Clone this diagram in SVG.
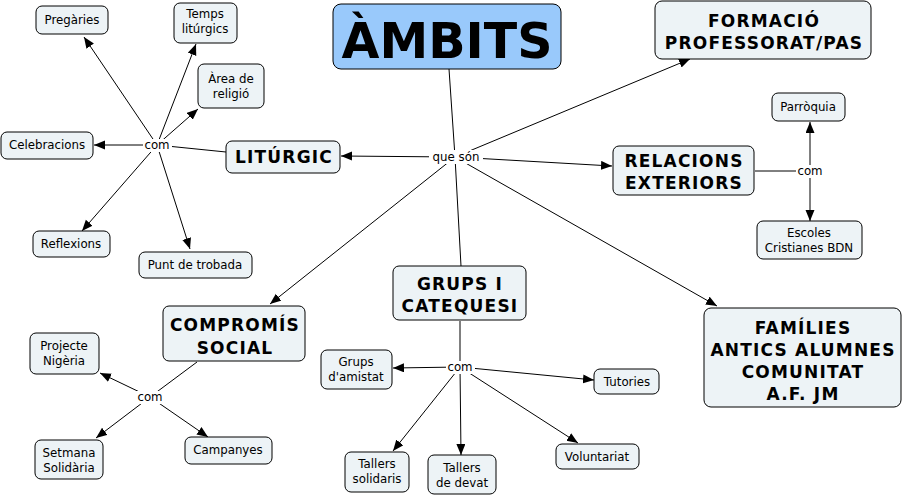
<svg xmlns="http://www.w3.org/2000/svg" width="903" height="497" viewBox="0 0 903 497">
<style>
.n{fill:#edf3f6;stroke:#000;stroke-width:1}
.t{font-family:"DejaVu Sans",Verdana,sans-serif;font-size:11.8px;fill:#000;text-anchor:middle}
.b{font-family:"DejaVu Sans",Verdana,sans-serif;font-size:17px;letter-spacing:1.2px;font-weight:bold;fill:#000;text-anchor:middle}
.c line{stroke:#000;stroke-width:1}
.a{marker-end:url(#ah)}
.lb{fill:#fff}
</style>
<defs>
<marker id="ah" markerUnits="userSpaceOnUse" markerWidth="12" markerHeight="10" refX="11" refY="4.5" orient="auto">
<path d="M0,0 L11,4.5 L0,9 z" fill="#000"/>
</marker>
</defs>
<rect width="903" height="497" fill="#fff"/>
<g id="connectors" class="c">
<line x1="455" y1="157" x2="449" y2="69"/>
<line class="a" x1="455" y1="157" x2="690" y2="59"/>
<line class="a" x1="455" y1="157" x2="341" y2="156"/>
<line class="a" x1="455" y1="157" x2="612" y2="166"/>
<line class="a" x1="455" y1="157" x2="270" y2="304"/>
<line x1="455" y1="157" x2="461" y2="266"/>
<line class="a" x1="455" y1="157" x2="717" y2="306"/>
<line x1="226" y1="152" x2="157" y2="145"/>
<line class="a" x1="157" y1="145" x2="84" y2="37"/>
<line class="a" x1="157" y1="145" x2="196" y2="44"/>
<line class="a" x1="157" y1="145" x2="198" y2="109"/>
<line class="a" x1="157" y1="145" x2="94" y2="145"/>
<line class="a" x1="157" y1="145" x2="82" y2="231"/>
<line class="a" x1="157" y1="145" x2="190" y2="249"/>
<line x1="755" y1="171" x2="810" y2="171"/>
<line class="a" x1="810" y1="171" x2="810" y2="122"/>
<line class="a" x1="810" y1="171" x2="810" y2="221"/>
<line x1="197" y1="362" x2="150" y2="397"/>
<line class="a" x1="150" y1="397" x2="100" y2="373"/>
<line class="a" x1="150" y1="397" x2="96" y2="438"/>
<line class="a" x1="150" y1="397" x2="208" y2="437"/>
<line x1="460" y1="321" x2="460" y2="367"/>
<line class="a" x1="460" y1="367" x2="393" y2="368"/>
<line class="a" x1="460" y1="367" x2="594" y2="380"/>
<line class="a" x1="460" y1="367" x2="393" y2="451"/>
<line class="a" x1="460" y1="367" x2="461" y2="455"/>
<line class="a" x1="460" y1="367" x2="578" y2="443"/>
</g>
<g id="label-queson"><rect class="lb" x="429" y="150" width="54" height="14"/><text class="t" x="456" y="161">que són</text></g>
<g id="label-com1"><rect class="lb" x="143" y="139" width="29" height="13"/><text class="t" x="157" y="149">com</text></g>
<g id="label-com2"><rect class="lb" x="796" y="165" width="29" height="13"/><text class="t" x="810" y="175">com</text></g>
<g id="label-com3"><rect class="lb" x="136" y="391" width="29" height="13"/><text class="t" x="150" y="401">com</text></g>
<g id="label-com4"><rect class="lb" x="446" y="361" width="29" height="13"/><text class="t" x="460" y="371">com</text></g>

<g id="ambits"><rect x="333" y="4" width="228" height="65" rx="8" fill="#99c9fb" stroke="#000"/><text class="b" style="font-size:49px;letter-spacing:0" x="447" y="58">ÀMBITS</text></g>
<g id="formacio"><rect class="n" x="655" y="1" width="216" height="58" rx="7"/><text class="b" x="764" y="27">FORMACIÓ</text><text class="b" x="764" y="49">PROFESSORAT/PAS</text></g>
<g id="liturgic"><rect class="n" x="226" y="141" width="114" height="32" rx="6"/><text class="b" x="284" y="163">LITÚRGIC</text></g>
<g id="relacions"><rect class="n" x="613" y="146" width="141" height="49" rx="6"/><text class="b" x="684" y="167">RELACIONS</text><text class="b" x="684" y="189">EXTERIORS</text></g>
<g id="parroquia"><rect class="n" x="772" y="93" width="73" height="28" rx="6"/><text class="t" x="808" y="111">Parròquia</text></g>
<g id="escoles"><rect class="n" x="757" y="221" width="105" height="38" rx="6"/><text class="t" x="809" y="237">Escoles</text><text class="t" x="809" y="252">Cristianes BDN</text></g>
<g id="pregaries"><rect class="n" x="36" y="6" width="72" height="28" rx="6"/><text class="t" x="72" y="24">Pregàries</text></g>
<g id="temps"><rect class="n" x="174" y="3" width="63" height="40" rx="6"/><text class="t" x="205" y="18">Temps</text><text class="t" x="205" y="33">litúrgics</text></g>
<g id="area"><rect class="n" x="198" y="64" width="66" height="44" rx="6"/><text class="t" x="231" y="83">Àrea de</text><text class="t" x="231" y="98">religió</text></g>
<g id="celebracions"><rect class="n" x="1" y="132" width="92" height="27" rx="6"/><text class="t" x="47" y="149">Celebracions</text></g>
<g id="reflexions"><rect class="n" x="33" y="231" width="77" height="26" rx="6"/><text class="t" x="71" y="248">Reflexions</text></g>
<g id="punt"><rect class="n" x="139" y="252" width="113" height="26" rx="6"/><text class="t" x="195" y="269">Punt de trobada</text></g>
<g id="compromis"><rect class="n" x="163" y="306" width="142" height="55" rx="6"/><text class="b" x="235" y="331">COMPROMÍS</text><text class="b" x="235" y="354">SOCIAL</text></g>
<g id="projecte"><rect class="n" x="30" y="333" width="69" height="41" rx="6"/><text class="t" x="64" y="350">Projecte</text><text class="t" x="64" y="365">Nigèria</text></g>
<g id="setmana"><rect class="n" x="35" y="440" width="68" height="39" rx="6"/><text class="t" x="69" y="457">Setmana</text><text class="t" x="69" y="472">Solidària</text></g>
<g id="campanyes"><rect class="n" x="185" y="437" width="87" height="27" rx="6"/><text class="t" x="228" y="454">Campanyes</text></g>
<g id="grups"><rect class="n" x="393" y="266" width="133" height="54" rx="6"/><text class="b" x="460" y="290">GRUPS I</text><text class="b" x="460" y="312">CATEQUESI</text></g>
<g id="amistat"><rect class="n" x="321" y="350" width="71" height="39" rx="6"/><text class="t" x="356" y="366">Grups</text><text class="t" x="356" y="381">d'amistat</text></g>
<g id="tutories"><rect class="n" x="594" y="369" width="65" height="25" rx="6"/><text class="t" x="627" y="386">Tutories</text></g>
<g id="tsolidaris"><rect class="n" x="345" y="452" width="64" height="40" rx="6"/><text class="t" x="377" y="468">Tallers</text><text class="t" x="377" y="483">solidaris</text></g>
<g id="tdevat"><rect class="n" x="428" y="455" width="68" height="39" rx="6"/><text class="t" x="462" y="472">Tallers</text><text class="t" x="462" y="487">de devat</text></g>
<g id="voluntariat"><rect class="n" x="556" y="444" width="83" height="25" rx="6"/><text class="t" x="597" y="461">Voluntariat</text></g>
<g id="families"><rect class="n" x="704" y="308" width="197" height="99" rx="7"/><text class="b" x="803" y="334">FAMÍLIES</text><text class="b" x="803" y="356">ANTICS ALUMNES</text><text class="b" x="803" y="378">COMUNITAT</text><text class="b" x="803" y="400">A.F. JM</text></g>
</svg>
